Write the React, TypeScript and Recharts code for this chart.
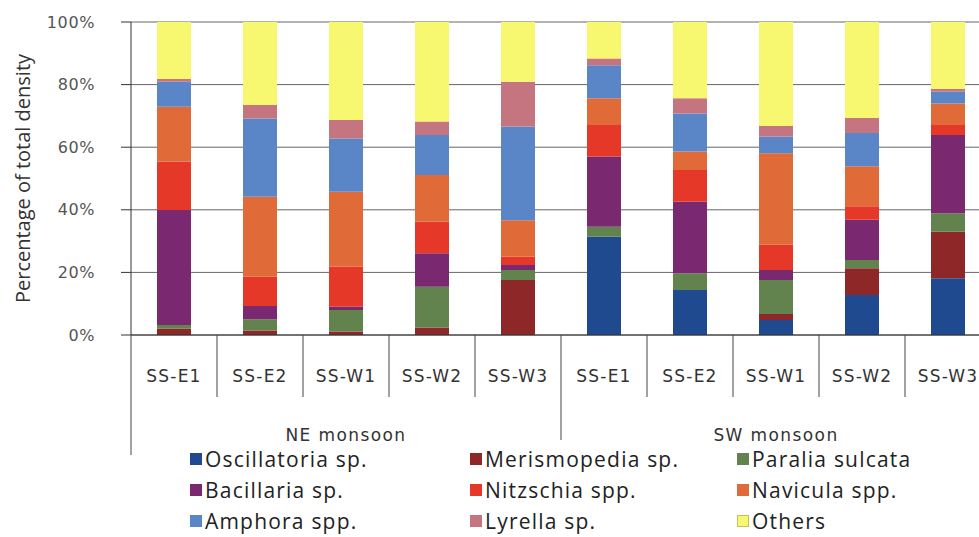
import { BarChart, Bar, XAxis, YAxis, CartesianGrid, Legend } from 'recharts'

const stations = ['SS-E1', 'SS-E2', 'SS-W1', 'SS-W2', 'SS-W3', 'SS-E1', 'SS-E2', 'SS-W1', 'SS-W2', 'SS-W3']
const seasons = ['NE monsoon', 'NE monsoon', 'NE monsoon', 'NE monsoon', 'NE monsoon', 'SW monsoon', 'SW monsoon', 'SW monsoon', 'SW monsoon', 'SW monsoon']

const oscillatoria = [0, 0, 0, 0, 0, 31.4, 14.4, 4.8, 12.8, 18.1]
const merismopedia = [2, 1.4, 1.1, 2.4, 17.6, 0, 0, 1.9, 8.5, 14.9]
const paralia = [1.2, 3.6, 6.9, 13, 3.2, 3.2, 5.3, 10.9, 2.7, 5.9]
const bacillaria = [36.7, 4.3, 1, 10.7, 1.6, 22.4, 22.9, 3.2, 12.8, 25]
const nitzschia = [15.5, 9.3, 12.8, 10.1, 2.6, 10.1, 10.1, 8, 4.3, 3.2]
const navicula = [17.5, 25.6, 24, 14.9, 11.7, 8.5, 5.9, 29.3, 12.8, 6.9]
const amphora = [8, 25, 17, 12.8, 29.9, 10.6, 12.2, 5.3, 10.6, 3.7]
const lyrella = [0.9, 4.3, 5.9, 4.3, 14.3, 2.1, 4.8, 3.4, 4.8, 0.9]
const others = [18.2, 26.5, 31.3, 31.8, 19.1, 11.7, 24.4, 33.2, 30.7, 21.4]

const yTicks = [0, 20, 40, 60, 80, 100]

// stacking order, bottom to top
const series = [
  { key: 'osc', name: 'Oscillatoria sp.', values: oscillatoria, color: '#1f4a90' },
  { key: 'mer', name: 'Merismopedia sp.', values: merismopedia, color: '#8e2828' },
  { key: 'par', name: 'Paralia sulcata', values: paralia, color: '#62824e' },
  { key: 'bac', name: 'Bacillaria sp.', values: bacillaria, color: '#7a2870' },
  { key: 'nit', name: 'Nitzschia spp.', values: nitzschia, color: '#e53828' },
  { key: 'nav', name: 'Navicula spp.', values: navicula, color: '#e06a38' },
  { key: 'amp', name: 'Amphora spp.', values: amphora, color: '#5a86c8' },
  { key: 'lyr', name: 'Lyrella sp.', values: lyrella, color: '#c47580' },
  { key: 'oth', name: 'Others', values: others, color: '#f8f870' },
]

// legend reads row by row
const legendOrder = ['osc', 'mer', 'par', 'bac', 'nit', 'nav', 'amp', 'lyr', 'oth']

const data = stations.map((s, i) => {
  const row: Record<string, string | number> = { station: s, season: seasons[i] }
  series.forEach((sr) => {
    row[sr.key] = sr.values[i]
  })
  return row
})

const CHART_W = 1000
const PLOT_LEFT = 131
const PLOT_RIGHT_MARGIN = 9
const BAND = (CHART_W - PLOT_LEFT - PLOT_RIGHT_MARGIN) / stations.length

function StationTick(props: any) {
  const { x, y, payload, index } = props
  const left = x - BAND / 2
  const sepEnd = index === 0 ? 120 : index === 5 ? 105 : 62
  const season = seasons[index]
  const showSeason = index === 2 || index === 7
  return (
    <g>
      <line x1={left} y1={y} x2={left} y2={y + sepEnd} stroke="#444" strokeWidth={1} />
      <text
        x={x}
        y={y + 41}
        textAnchor="middle"
        dominantBaseline="central"
        fontFamily="DejaVu Sans"
        fontSize={17}
        letterSpacing={1.2}
        fill="#333"
      >
        {payload.value}
      </text>
      {showSeason && (
        <text
          x={x}
          y={y + 100}
          textAnchor="middle"
          dominantBaseline="central"
          fontFamily="DejaVu Sans"
          fontSize={17}
          letterSpacing={1.4}
          fill="#333"
        >
          {season}
        </text>
      )}
    </g>
  )
}

function LegendBox() {
  const items = legendOrder.map((k) => series.find((s) => s.key === k)!)
  return (
    <div
      style={{
        display: 'grid',
        gridTemplateColumns: '280px 267px 200px',
        rowGap: 7,
        fontFamily: 'Open Sans',
        fontSize: 21,
        letterSpacing: 1.2,
        color: '#222',
      }}
    >
      {items.map((it) => (
        <div key={it.key} style={{ display: 'flex', alignItems: 'center', height: 24, whiteSpace: 'nowrap' }}>
          <span
            style={{
              display: 'inline-block',
              width: 12,
              height: 12,
              background: it.color,
              border: it.key === 'oth' ? '1px solid #c8c060' : 'none',
              boxSizing: 'border-box',
              marginRight: 3,
              flex: 'none',
            }}
          />
          {it.name}
        </div>
      ))}
    </div>
  )
}

export default function App() {
  return (
    <div
      style={{
        position: 'absolute',
        left: 0,
        top: 0,
        width: 979,
        height: 537,
        overflow: 'hidden',
        background: '#fff',
      }}
    >
      <BarChart
        width={CHART_W}
        height={537}
        data={data}
        margin={{ top: 22, right: PLOT_RIGHT_MARGIN, left: PLOT_LEFT - 62, bottom: 0 }}
        barSize={34}
      >
        <CartesianGrid vertical={false} stroke="#666" strokeWidth={1} />
        <XAxis
          dataKey="station"
          height={202}
          interval={0}
          tickSize={0}
          tickMargin={0}
          tick={<StationTick />}
          axisLine={{ stroke: '#333' }}
        />
        <YAxis
          width={62}
          domain={[0, 100]}
          ticks={yTicks}
          allowDataOverflow
          tickFormatter={(v: number) => `${v}%`}
          tickSize={10}
          tickMargin={26}
          tickLine={{ stroke: '#333' }}
          axisLine={{ stroke: '#333' }}
          tick={{ fontFamily: 'DejaVu Sans', fontSize: 16, fill: '#555', letterSpacing: 0.6 }}
          label={{
            value: 'Percentage of total density',
            angle: -90,
            position: 'insideLeft',
            offset: -46,
            style: { textAnchor: 'middle', fontFamily: 'Open Sans', fontSize: 20, fill: '#333' },
          }}
        />
        <Legend
          layout="vertical"
          align="center"
          verticalAlign="middle"
          content={<LegendBox />}
          wrapperStyle={{ position: 'absolute', top: 447, left: 190, width: 760 }}
        />
        {series.map((s) => (
          <Bar key={s.key} dataKey={s.key} name={s.name} stackId="a" fill={s.color} isAnimationActive={false} />
        ))}
      </BarChart>
    </div>
  )
}
